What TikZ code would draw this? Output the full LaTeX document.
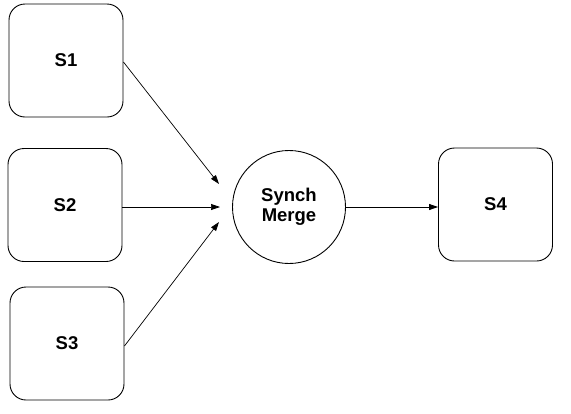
\documentclass[tikz,border=0pt]{standalone}
\usepackage{fontspec}
\setmainfont{Liberation Sans}
\usetikzlibrary{arrows.meta,positioning}
\definecolor{FlowInk}{HTML}{000000}
\definecolor{FlowPaper}{HTML}{FFFFFF}
\tikzset{
  every node/.style={font=\bfseries\fontsize{18.5}{21}\selectfont, text=FlowInk, align=center},
  state/.style={draw=FlowInk, line width=0.9pt, fill=FlowPaper, rounded corners=16pt,
    minimum width=114pt, minimum height=113pt},
  merge/.style={draw=FlowInk, line width=0.9pt, fill=FlowPaper, circle, minimum size=113pt, inner sep=0pt},
  flow/.style={-{Triangle[length=9pt,width=6pt]}, draw=FlowInk, line width=0.7pt},
}

\begin{document}
\begin{tikzpicture}[x=1pt,y=-1pt]
  % Page frame
  \useasboundingbox (0,0) rectangle (571,413);
  % Incoming states
  \node[state] (s1) at (66,60.5) {S1};
  \node[state] (s2) at (65,205) {S2};
  \node[state] (s3) at (67,343.5) {S3};
  % Synchronising merge
  \node[merge] (sm) at (289,207) {Synch\\[-1pt]Merge};
  % Outgoing state
  \node[state] (s4) at (495.5,204.5) {S4};
  % Arrow ends short of the merge
  \coordinate (in1) at (219,184);
  \coordinate (in2) at (220,207);
  \coordinate (in3) at (219,222);
  % Connectors
  \draw[flow] (s1.east |- 0,62) -- (in1);
  \draw[flow] (s2.east |- 0,207) -- (in2);
  \draw[flow] (s3.east |- 0,346) -- (in3);
  \draw[flow] (sm.east) -- (s4.west |- sm.east);
\end{tikzpicture}
\end{document}
